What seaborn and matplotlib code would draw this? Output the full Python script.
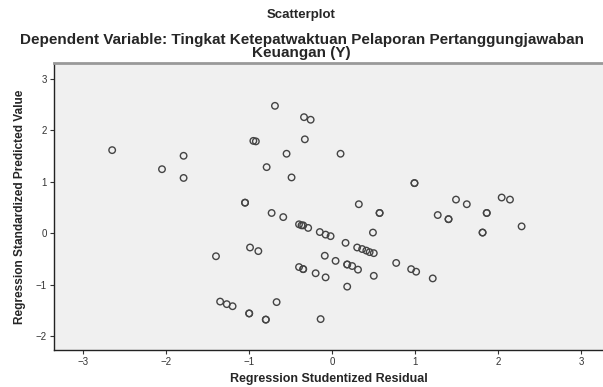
import pandas as pd
import matplotlib.pyplot as plt
import seaborn as sns

# Residual vs predicted values
residual = [-2.65, -2.05, -1.79, -1.79,
            -0.69, -0.34, -0.26, -0.95, -0.92, -0.33, -0.55, 0.10, -0.79, -0.49,
            -1.05, -1.05, -0.73, -0.59, -0.40, -0.37, -0.35, -0.29,
            -0.15, -0.08, -0.02, 0.32, 0.16, -0.99, -0.89,
            0.30, 0.36, 0.41, 0.45, 0.50, 0.49,
            -0.09, 0.04, 0.18, 0.18, 0.24, 0.31, -0.40, -0.35, -0.35,
            -0.20, -0.08, 0.50, 0.77, 0.95, 1.01, 1.21, 0.18, -0.14,
            1.81, 1.81, 2.28, -1.40, -1.35, -1.27, -1.20, -0.67,
            -1.00, -1.00, -0.80, -0.80,
            0.99, 0.99, 0.57, 0.57, 1.27, 1.40, 1.40, 1.49, 1.62,
            1.86, 1.86, 2.04, 2.14]
predicted = [1.61, 1.24, 1.50, 1.07,
             2.47, 2.25, 2.20, 1.79, 1.78, 1.82, 1.54, 1.54, 1.28, 1.08,
             0.59, 0.59, 0.39, 0.31, 0.17, 0.15, 0.15, 0.10,
             0.02, -0.03, -0.06, 0.56, -0.19, -0.28, -0.35,
             -0.28, -0.31, -0.34, -0.37, -0.39, 0.01,
             -0.44, -0.54, -0.61, -0.61, -0.64, -0.71, -0.66, -0.70, -0.70,
             -0.78, -0.86, -0.83, -0.58, -0.70, -0.75, -0.88, -1.04, -1.67,
             0.01, 0.01, 0.13, -0.45, -1.33, -1.38, -1.42, -1.34,
             -1.56, -1.56, -1.68, -1.68,
             0.97, 0.97, 0.39, 0.39, 0.35, 0.27, 0.27, 0.65, 0.56,
             0.39, 0.39, 0.69, 0.65]

df = pd.DataFrame({'Residual': residual, 'Predicted': predicted})

sns.set_style('ticks')
plt.rcParams['font.family'] = ['Liberation Sans', 'DejaVu Sans']

fig = plt.figure(figsize=(6.03, 3.87), dpi=100)
ax = fig.add_axes([0.0896, 0.0956, 0.9104, 0.7414])
ax.set_facecolor('#f0f0f0')

sns.scatterplot(data=df, x='Residual', y='Predicted', ax=ax,
                marker='o', s=22, facecolor='none', edgecolor='#444444',
                linewidth=1.0)

ax.set_xlim(-3.35, 3.26)
ax.set_ylim(-2.27, 3.3)
ax.set_xticks([-3, -2, -1, 0, 1, 2, 3])
ax.set_yticks([-2, -1, 0, 1, 2, 3])
ax.tick_params(labelsize=7, length=3, width=0.8, colors='#333333', pad=2)

for side in ['left', 'bottom']:
    ax.spines[side].set_color('#222222')
    ax.spines[side].set_linewidth(1.0)
ax.spines['top'].set_color('#999999')
ax.spines['top'].set_linewidth(2.0)
ax.spines['right'].set_visible(False)

ax.set_xlabel('Regression Studentized Residual', fontsize=9, fontweight='bold', labelpad=4)
ax.set_ylabel('Regression Standardized Predicted Value', fontsize=8.6, fontweight='bold', labelpad=7)

fig.text(0.5, 0.96, 'Scatterplot', ha='center', va='center', fontsize=9.5, fontweight='bold')
fig.text(0.5, 0.88, 'Dependent Variable: Tingkat Ketepatwaktuan Pelaporan Pertanggungjawaban\nKeuangan (Y)',
         ha='center', va='center', fontsize=11, fontweight='bold', linespacing=0.85)

plt.savefig('out.png', dpi=100)
